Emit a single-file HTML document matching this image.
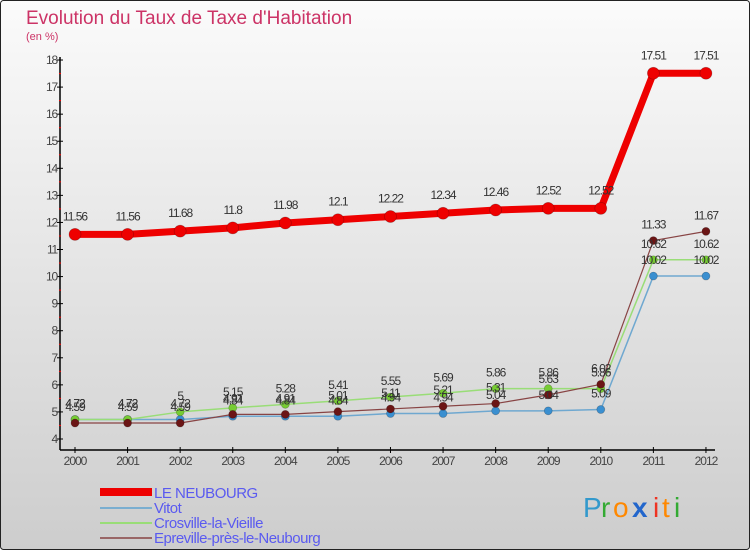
<!DOCTYPE html>
<html><head><meta charset="utf-8"><style>
body{margin:0;}
#wrap{width:750px;height:550px;position:relative;overflow:hidden;font-family:"Liberation Sans",sans-serif;}
</style></head><body>
<div id="wrap">
<svg id="chart" width="750" height="550" xmlns="http://www.w3.org/2000/svg">
<defs><linearGradient id="bg" x1="0" y1="0" x2="0" y2="1"><stop offset="0" stop-color="#fbfbfb"/><stop offset="1" stop-color="#cdcdcd"/></linearGradient></defs>
<rect x="0.5" y="0.5" width="749" height="549" rx="3" fill="url(#bg)" stroke="#222"/>
<text x="26" y="24" font-size="19" fill="#cc3366">Evolution du Taux de Taxe d'Habitation</text>
<text x="26" y="40" font-size="11" fill="#cc3366">(en %)</text>
<g id="axes"></g><g id="series"></g><g id="labels"></g>
<g>
<rect x="100" y="488" width="52" height="8" fill="#ee0000"/>
<text x="154" y="498" font-size="15" fill="#5a5af0" letter-spacing="-0.5">LE NEUBOURG</text>
<rect x="100" y="507" width="52" height="2" fill="#7aaed0"/>
<text x="154" y="513" font-size="15" fill="#5a5af0" letter-spacing="-0.5">Vitot</text>
<rect x="100" y="522" width="52" height="2" fill="#99dd77"/>
<text x="154" y="528" font-size="15" fill="#5a5af0" letter-spacing="-0.5">Crosville-la-Vieille</text>
<rect x="100" y="537" width="52" height="2" fill="#996666"/>
<text x="154" y="543" font-size="15" fill="#5a5af0" letter-spacing="-0.5">Epreville-près-le-Neubourg</text>
</g>
<g font-size="28">
<text x="583" y="517" fill="#3399cc">P</text><text x="601" y="517" fill="#33aa33">r</text><text x="613" y="517" fill="#ff8800">o</text><text x="632" y="517" fill="#2266cc" font-weight="bold">x</text><text x="653" y="517" fill="#ee3322">i</text><text x="662" y="517" fill="#ff8800">t</text><text x="674" y="517" fill="#33aa33">i</text>
</g>
</svg></div>
<script>
const years=["2000","2001","2002","2003","2004","2005","2006","2007","2008","2009","2010","2011","2012"];
const yTicks=[4,5,6,7,8,9,10,11,12,13,14,15,16,17,18];
const leNeubourg=[11.56,11.56,11.68,11.8,11.98,12.1,12.22,12.34,12.46,12.52,12.52,17.51,17.51];
const vitot=[4.72,4.72,4.72,4.84,4.84,4.84,4.94,4.94,5.04,5.04,5.09,10.02,10.02];
const crosville=[4.72,4.72,5,5.15,5.28,5.41,5.55,5.69,5.86,5.86,5.86,10.62,10.62];
const epreville=[4.59,4.59,4.59,4.91,4.91,5.01,5.11,5.21,5.31,5.63,6.02,11.33,11.67];
const NS="http://www.w3.org/2000/svg";
const X=i=>75+i*52.58, Y=v=>439-(v-4)*27.07;
function mk(t,a,p){const e=document.createElementNS(NS,t);for(const k in a)e.setAttribute(k,a[k]);document.getElementById(p).appendChild(e);return e;}
let e=mk('line',{x1:60,y1:57,x2:60,y2:450,stroke:'#000','stroke-width':1.5},'axes');


e=mk('line',{x1:60,y1:450,x2:715,y2:450,stroke:'#000','stroke-width':1.5},'axes');


yTicks.forEach(v=>{
 mk('line',{x1:57,x2:63,y1:Y(v),y2:Y(v),stroke:'#000'},'axes');
 if(v<18) mk('line',{x1:59,x2:61,y1:Y(v+0.5),y2:Y(v+0.5),stroke:'#f00'},'axes');
 const t=mk('text',{x:57,y:Y(v)+4,'font-size':12,fill:'#444','text-anchor':'end','letter-spacing':'-1.2'},'axes');t.textContent=v;
 
 
});
years.forEach((y,i)=>{
 mk('line',{x1:X(i),x2:X(i),y1:447,y2:453,stroke:'#000'},'axes');
 const t=mk('text',{x:X(i),y:465,'font-size':12,fill:'#444','text-anchor':'middle','letter-spacing':'-1'},'axes');t.textContent=y;
 
 
});
function series(d,col,w,r,name,dot){
 const l=mk('polyline',{points:d.map((v,i)=>X(i)+','+Y(v)).join(' '),fill:'none',stroke:col,'stroke-width':w,'stroke-linejoin':'round'},'series');
 
 
 d.forEach((v,i)=>{
  const c=mk('circle',{cx:X(i),cy:Y(v),r:r,fill:dot,stroke:'rgba(0,0,0,0.25)','stroke-width':0.7},'series');
  
  
  const t=mk('text',{x:X(i),y:Y(v)-(r+8),'font-size':12,fill:'#333','text-anchor':'middle','letter-spacing':'-1'},'labels');
  t.textContent=String(v);
  
  
 });
}
series(vitot,'#6fa8d0',1.5,4,'vitot','#3a8fd0');
series(crosville,'#99dd77',1.5,4,'crosville','#77cc33');
series(epreville,'#884444',1.2,4,'epreville','#6b1515');
series(leNeubourg,'#ee0000',7,6,'le-neubourg','#ee0000');
</script>
</body></html>
